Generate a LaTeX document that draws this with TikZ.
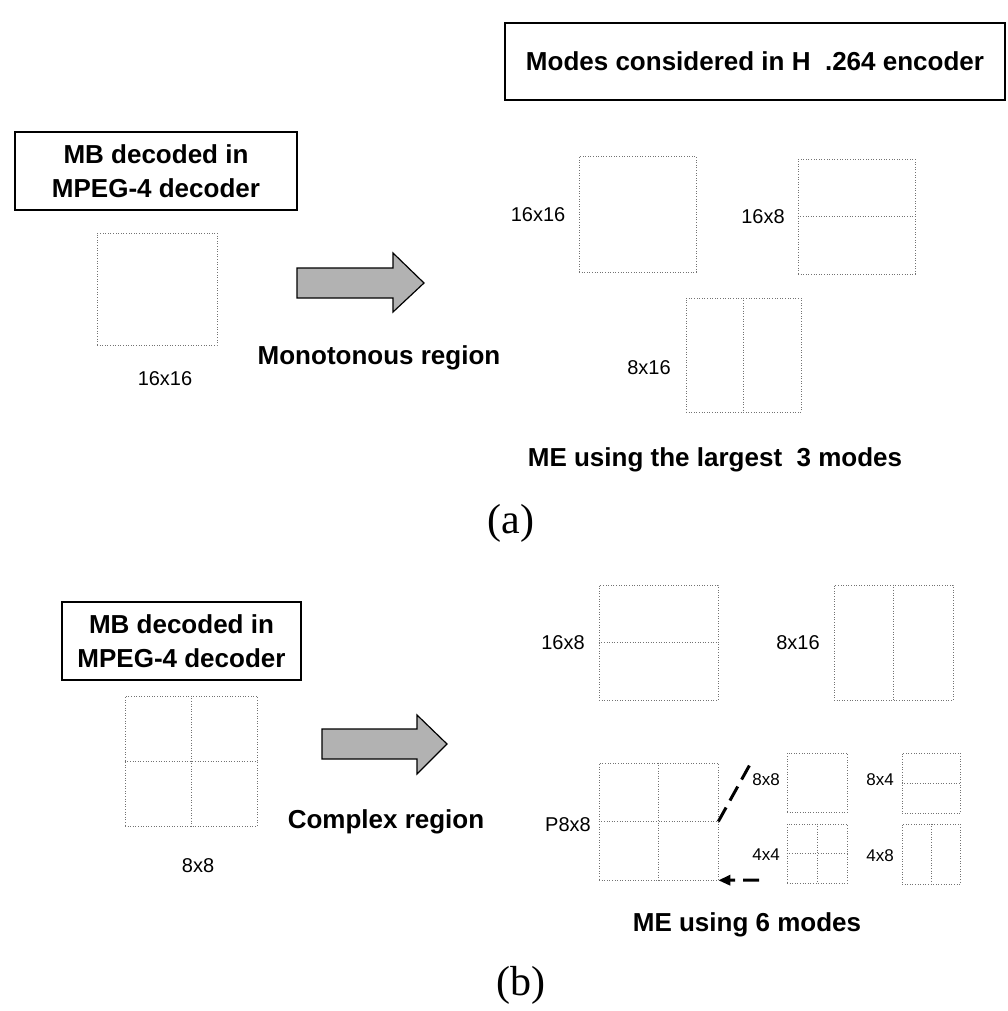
\documentclass[tikz,border=0pt]{standalone}
\usepackage{fontspec}
\setmainfont{Liberation Sans}
\newfontfamily\capfont{Liberation Serif}
\usetikzlibrary{arrows.meta}

\tikzset{
  titlebox/.style={draw, line width=1.6pt, align=center, inner sep=0pt,
    font=\fontsize{26}{34}\selectfont\bfseries},
  caption/.style={font=\fontsize{26}{30}\selectfont\bfseries},
  sizelabel/.style={font=\fontsize{20}{24}\selectfont},
  sublabel/.style={font=\fontsize{17}{20}\selectfont},
  blk/.style={draw=black!55, dotted, line width=0.6pt, inner sep=0pt},
  fat/.style={draw, line width=1.2pt, fill=black!30},
  zoomline/.style={line width=3pt, dash pattern=on 16pt off 8pt},
  figtag/.style={font=\capfont\fontsize{42}{46}\selectfont}
}

\begin{document}
\begin{tikzpicture}[x=1pt, y=-1pt]
            \useasboundingbox (0,0) rectangle (1008,1011);

            % (a)
            \node[titlebox, minimum width=282pt, minimum height=78pt] (mbA) at (156,171) {MB decoded in\\MPEG-4 decoder};
            \node[blk, minimum width=120pt, minimum height=112pt] (mbA16) at (157,289) {};
            \node[sizelabel] (mbA16lbl) at (165,379) {16x16};
            \draw[fat] (297,268) -- (393,268) -- (393,253) -- (424,283) -- (393,312) -- (393,298) -- (297,298) -- cycle;
            \node[caption] (mono) at (379,358) {Monotonous region};

            \node[titlebox, minimum width=500pt, minimum height=77pt] (h264) at (755,61.5) {Modes considered in H\ \ .264 encoder};
            \node[blk, minimum width=117pt, minimum height=116pt] (m16x16) at (637.5,214) {};
            \node[sizelabel] (m16x16lbl) at (538,215) {16x16};
            \node[blk, minimum width=117pt, minimum height=115pt] (m16x8) at (856.5,216.5) {};
            \draw[blk] (m16x8.west) -- (m16x8.east);
            \node[sizelabel] (m16x8lbl) at (763,217) {16x8};
            \node[blk, minimum width=115pt, minimum height=114pt] (m8x16) at (743.5,355) {};
            \draw[blk] (m8x16.north) -- (m8x16.south);
            \node[sizelabel] (m8x16lbl) at (649,368) {8x16};
            \node[caption] (meA) at (715,460) {ME using the largest\ \ 3 modes};
            \node[figtag] (tagA) at (511,523) {(a)};

            % (b)
            \node[titlebox, minimum width=239pt, minimum height=78pt] (mbB) at (181.5,641) {MB decoded in\\MPEG-4 decoder};
            \node[blk, minimum width=132pt, minimum height=130pt] (mbB8) at (191,761) {};
            \draw[blk] (mbB8.west) -- (mbB8.east);
            \draw[blk] (mbB8.north) -- (mbB8.south);
            \node[sizelabel] (mbB8lbl) at (198,866) {8x8};
            \draw[fat] (322,729) -- (417,729) -- (417,715) -- (447,744) -- (417,774) -- (417,759) -- (322,759) -- cycle;
            \node[caption] (complex) at (386,822) {Complex region};

            \node[blk, minimum width=119pt, minimum height=115pt] (n16x8) at (658.5,642.5) {};
            \draw[blk] (n16x8.west) -- (n16x8.east);
            \node[sizelabel] (n16x8lbl) at (563,643) {16x8};
            \node[blk, minimum width=119pt, minimum height=115pt] (n8x16) at (893.5,642.5) {};
            \draw[blk] (n8x16.north) -- (n8x16.south);
            \node[sizelabel] (n8x16lbl) at (798,643) {8x16};
            \node[blk, minimum width=119pt, minimum height=117pt] (p8x8) at (658.5,821.5) {};
            \draw[blk] (p8x8.west) -- (p8x8.east);
            \draw[blk] (p8x8.north) -- (p8x8.south);
            \node[sizelabel] (p8x8lbl) at (568,825) {P8x8};

            \node[blk, minimum width=60pt, minimum height=59pt] (s8x8) at (817,782.5) {};
            \node[sublabel] (s8x8lbl) at (766,780) {8x8};
            \node[blk, minimum width=58pt, minimum height=60pt] (s8x4) at (931,783) {};
            \draw[blk] (s8x4.west) -- (s8x4.east);
            \node[sublabel] (s8x4lbl) at (880,780) {8x4};
            \node[blk, minimum width=60pt, minimum height=59pt] (s4x4) at (817,853.5) {};
            \draw[blk] (s4x4.west) -- (s4x4.east);
            \draw[blk] (s4x4.north) -- (s4x4.south);
            \node[sublabel] (s4x4lbl) at (766,855) {4x4};
            \node[blk, minimum width=58pt, minimum height=60pt] (s4x8) at (931,854) {};
            \draw[blk] (s4x8.north) -- (s4x8.south);
            \node[sublabel] (s4x8lbl) at (880,856) {4x8};

            \coordinate (zoomtop) at (753,759);
            \coordinate (zoombot) at (759,880);
            \draw[zoomline] (p8x8.east) -- (zoomtop);
            \draw[zoomline, -{Triangle[length=12pt,width=10pt]}] (zoombot) -- (p8x8.south east);

            \node[caption] (meB) at (747,925) {ME using 6 modes};
            \node[figtag] (tagB) at (521,985) {(b)};
        \end{tikzpicture}
\end{document}
